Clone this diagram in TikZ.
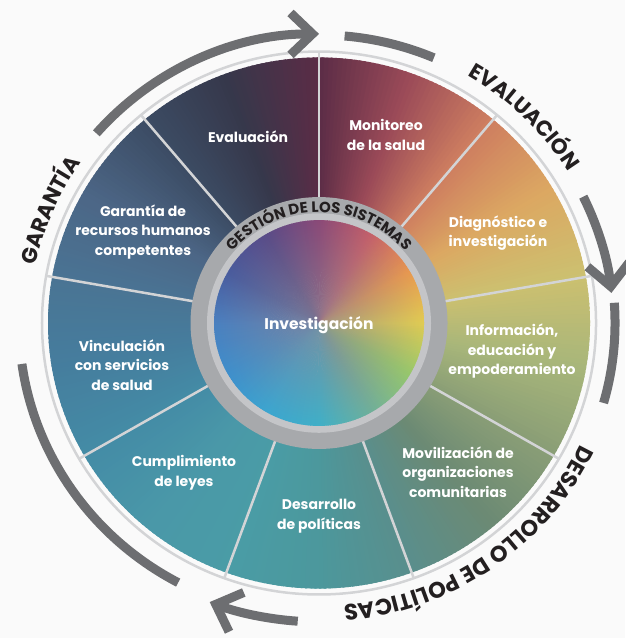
\documentclass[tikz,border=0pt]{standalone}
\usepackage{fontspec}
\setmainfont{Poppins}
\usepackage{xcolor}
\usetikzlibrary{
    arrows.meta,
    decorations.text,
    fadings
}

\definecolor{bgwhite}{HTML}{FAFAFA}
\definecolor{ink}{HTML}{231F20}
\definecolor{ringdark}{HTML}{A7A9AC}
\definecolor{ringlight}{HTML}{C4C5C8}
\definecolor{spokegray}{HTML}{D3D4D6}
\definecolor{arrowgray}{HTML}{6D6E71}
\definecolor{hazegray}{HTML}{8A8494}

% outer wheel, every 20 degrees from the top
\definecolor{w90}{HTML}{5A2C46}
\definecolor{w110}{HTML}{36384B}
\definecolor{w130}{HTML}{3C4C64}
\definecolor{w150}{HTML}{4C6686}
\definecolor{w170}{HTML}{4A7494}
\definecolor{w190}{HTML}{457E9E}
\definecolor{w210}{HTML}{448CA6}
\definecolor{w230}{HTML}{4A98A8}
\definecolor{w250}{HTML}{4A9CA6}
\definecolor{w270}{HTML}{4C989C}
\definecolor{w290}{HTML}{5A8E8C}
\definecolor{w310}{HTML}{6C8A74}
\definecolor{w330}{HTML}{8A9E76}
\definecolor{w350}{HTML}{A8B67A}
\definecolor{w370}{HTML}{CCC070}
\definecolor{w390}{HTML}{DCA862}
\definecolor{w410}{HTML}{CE7E60}
\definecolor{w430}{HTML}{9A4A58}

% inner disc, every 30 degrees from the right
\definecolor{c0}{HTML}{E2CC52}
\definecolor{c30}{HTML}{E89850}
\definecolor{c60}{HTML}{C4606A}
\definecolor{c90}{HTML}{8A4A78}
\definecolor{c120}{HTML}{5A4C88}
\definecolor{c150}{HTML}{4A5C9E}
\definecolor{c180}{HTML}{4A80C0}
\definecolor{c210}{HTML}{3F90CC}
\definecolor{c240}{HTML}{3CA6D0}
\definecolor{c270}{HTML}{40B0C8}
\definecolor{c300}{HTML}{70B09A}
\definecolor{c330}{HTML}{98C86C}

\tikzfading[name=centerhaze, inner color=transparent!30, outer color=transparent!100]

\newcommand{\ringfont}{\bfseries\fontsize{15}{15}\selectfont\color{ink}}
\newcommand{\outerfont}{\bfseries\fontsize{21.5}{21.5}\selectfont\color{ink}}

\tikzset{
    seclabel/.style={text=white, align=center, font=\bfseries\fontsize{14}{19.5}\selectfont},
    spokeline/.style={draw=spokegray, line width=2.5pt},
    cyclearc/.style={draw=arrowgray, line width=9pt},
    cyclehead/.style={cyclearc, -{Straight Barb[length=22pt, width=42pt, sharp]}}
}

\begin{document}
\begin{tikzpicture}[x=1pt, y=0.98pt]
    \fill[bgwhite] (-319, -321.4) rectangle (306, 329.6);
    \useasboundingbox (-319, -321.4) rectangle (306, 329.6);

    % outer wheel
    \foreach \s/\ca/\cb in {90/w90/w110, 110/w110/w130, 130/w130/w150, 150/w150/w170,
                            170/w170/w190, 190/w190/w210, 210/w210/w230, 230/w230/w250,
                            250/w250/w270, 270/w270/w290, 290/w290/w310, 310/w310/w330,
                            330/w330/w350, 350/w350/w370, 370/w370/w390, 390/w390/w410,
                            410/w410/w430, 430/w430/w90} {
        \foreach \t in {0,...,19} {
            \pgfmathtruncatemacro\p{100-5*\t}
            \fill[\ca!\p!\cb] (0, 0) -- ({\s+\t}:271) arc[start angle={\s+\t}, delta angle=1.5, radius=271] -- cycle;
        }
    }
    \draw[spokegray, line width=2.5pt] (0, 0) circle[radius=277];
    \foreach \a in {90,50,...,-230}
        \draw[spokeline] (\a:128) -- (\a:277);

    % centre
    \fill[ringdark] (0, 0) circle[radius=128.5];
    \fill[ringlight] (0, 0) circle[radius=112];
    \foreach \s/\ca/\cb in {0/c0/c30, 30/c30/c60, 60/c60/c90, 90/c90/c120,
                            120/c120/c150, 150/c150/c180, 180/c180/c210, 210/c210/c240,
                            240/c240/c270, 270/c270/c300, 300/c300/c330, 330/c330/c0} {
        \foreach \t in {0,...,29} {
            \pgfmathtruncatemacro\p{100-100*\t/30}
            \fill[\ca!\p!\cb] (0, 0) -- ({\s+\t}:105) arc[start angle={\s+\t}, delta angle=1.5, radius=105] -- cycle;
        }
    }
    \fill[hazegray, path fading=centerhaze] (0, 0) circle[radius=105];

    \node[seclabel] (eval) at (-71, 190) {Evaluación};
    \node[seclabel] (monit) at (67, 192) {Monitoreo\\de la salud};
    \node[seclabel] (diag) at (179, 92) {Diagnóstico e\\investigación};
    \node[seclabel] (info) at (193, -29) {Información,\\educación y\\empoderamiento};
    \node[seclabel] (movil) at (139, -152) {Movilización de\\organizaciones\\comunitarias};
    \node[seclabel] (desarr) at (0, -197) {Desarrollo\\de políticas};
    \node[seclabel] (cumpl) at (-135, -153) {Cumplimiento\\de leyes};
    \node[seclabel] (vincul) at (-197, -43) {Vinculación\\con servicios\\de salud};
    \node[seclabel] (garant) at (-176, 93) {Garantía de\\recursos humanos\\competentes};
    \node[seclabel, font=\bfseries\fontsize{15.5}{19}\selectfont] (invest) at (0, -2) {Investigación};

    % curved titles
    \path[decorate, decoration={text along path, text align=center, text={|\ringfont|GESTIÓN DE LOS SISTEMAS}}]
        (177:113) arc[start angle=177, end angle=3, radius=113];
    \path[decorate, decoration={text along path, text align=center, text={|\outerfont|EVALUACIÓN}}]
        (80:293) arc[start angle=80, end angle=11, radius=293];
    \path[decorate, decoration={text along path, text align=center, text={|\outerfont|GARANTÍA}}]
        (190:289) arc[start angle=190, end angle=124, radius=289];
    \path[decorate, decoration={text along path, text align=center, text={|\outerfont\fontsize{22.5}{22.5}\selectfont|DESARROLLO DE POLÍTICAS}}]
        (0:289) arc[start angle=0, end angle=-110, radius=289];

    % cycle arrows
    \draw[cyclehead] (139:295) arc[start angle=139, end angle=90, radius=295];
    \draw[cyclearc] (85:294) arc[start angle=85, end angle=67, radius=294];
    \draw[cyclehead] (26:294) arc[start angle=26, end angle=6, radius=294];
    \draw[cyclearc] (4:296) arc[start angle=4, end angle=-16, radius=296];
    \draw[cyclehead] (-94:305) arc[start angle=-94, end angle=-111, radius=305];
    \draw[cyclearc] (-118:300) arc[start angle=-118, end angle=-172, radius=300];
\end{tikzpicture}
\end{document}
